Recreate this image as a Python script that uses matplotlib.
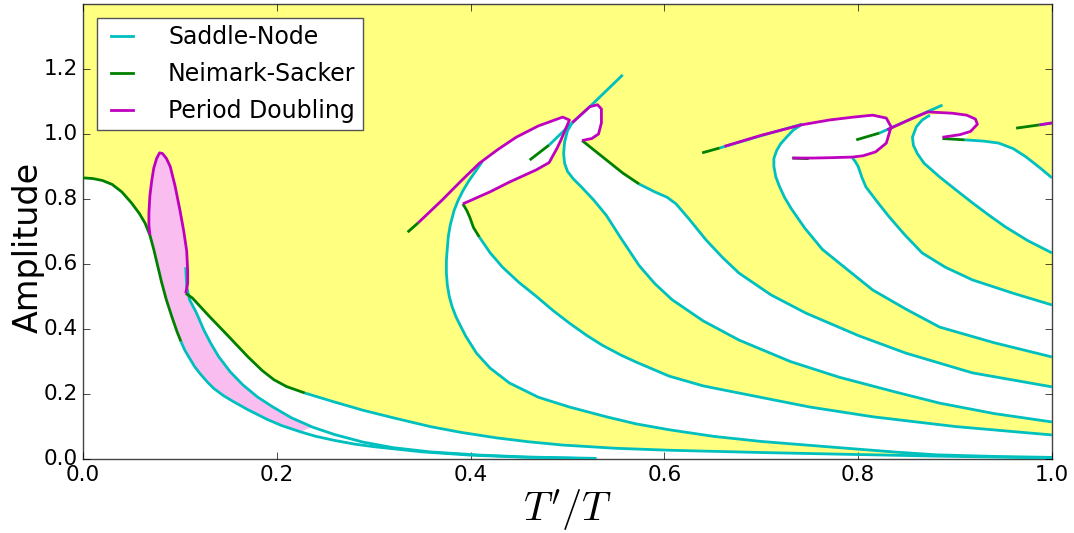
import matplotlib
matplotlib.use("Agg")
import matplotlib.pyplot as plt
from matplotlib.patches import Polygon

# ---- curve data (T'/T, amplitude) ----
# Neimark-Sacker pieces
ns1 = [(0.0, 0.865), (0.01, 0.863), (0.02, 0.857), (0.03, 0.845), (0.04, 0.822),
       (0.05, 0.788), (0.058, 0.756), (0.064, 0.726), (0.069, 0.689), (0.073, 0.645),
       (0.077, 0.595), (0.081, 0.545), (0.086, 0.49), (0.092, 0.435), (0.097, 0.392),
       (0.101, 0.362)]
ns2 = [(0.106, 0.51), (0.113, 0.495), (0.13, 0.44), (0.15, 0.378), (0.17, 0.315),
       (0.185, 0.272), (0.197, 0.244), (0.21, 0.223), (0.229, 0.203)]
ns_d2 = [(0.335, 0.698), (0.346, 0.727)]
ns_r2 = [(0.392, 0.785), (0.396, 0.765), (0.399, 0.745), (0.403, 0.712), (0.409, 0.683)]
ns_d3 = [(0.461, 0.92), (0.481, 0.966)]
ns_r3 = [(0.515, 0.98), (0.536, 0.93), (0.557, 0.88), (0.574, 0.846)]
ns_d4 = [(0.639, 0.942), (0.657, 0.957)]
ns_r4 = [(0.732, 0.926), (0.749, 0.924)]
ns_d5 = [(0.798, 0.982), (0.822, 1.003)]
ns_r5 = [(0.887, 0.986), (0.91, 0.982)]
ns_d6 = [(0.963, 1.018), (0.987, 1.028)]

# Saddle-node curves
sn_c1 = [(0.101, 0.362), (0.105, 0.335), (0.11, 0.31), (0.115, 0.285), (0.121, 0.262),
         (0.128, 0.238), (0.135, 0.217), (0.145, 0.195), (0.155, 0.177), (0.17, 0.152),
         (0.19, 0.122), (0.205, 0.103), (0.224, 0.084), (0.24, 0.07), (0.26, 0.057),
         (0.28, 0.046), (0.3, 0.038), (0.35, 0.022), (0.4, 0.012), (0.45, 0.006),
         (0.51, 0.002)]
sn_c2 = [(0.106, 0.59), (0.107, 0.53), (0.11, 0.49), (0.117, 0.45), (0.125, 0.395),
         (0.132, 0.355), (0.14, 0.315), (0.152, 0.268), (0.165, 0.228), (0.18, 0.191),
         (0.196, 0.16), (0.215, 0.127), (0.237, 0.098), (0.26, 0.075), (0.289, 0.052),
         (0.32, 0.035), (0.358, 0.022), (0.41, 0.012), (0.46, 0.006), (0.53, 0.002)]
sn_c3 = [(0.229, 0.203), (0.26, 0.175), (0.289, 0.15), (0.32, 0.127), (0.358, 0.1),
         (0.39, 0.082), (0.427, 0.065), (0.46, 0.053), (0.495, 0.043), (0.55, 0.033),
         (0.605, 0.027), (0.7, 0.02), (0.78, 0.015), (0.88, 0.009), (1.0, 0.003)]
sn_l2 = [(0.412, 0.915), (0.405, 0.885), (0.398, 0.855), (0.392, 0.825), (0.387, 0.795),
         (0.383, 0.765), (0.379, 0.72), (0.377, 0.685), (0.376, 0.65), (0.375, 0.61),
         (0.375, 0.572), (0.376, 0.535), (0.378, 0.5), (0.381, 0.468), (0.385, 0.437),
         (0.39, 0.407), (0.395, 0.378), (0.406, 0.326), (0.42, 0.28), (0.44, 0.234),
         (0.47, 0.19), (0.502, 0.16), (0.54, 0.13), (0.571, 0.108), (0.605, 0.09),
         (0.65, 0.07), (0.7, 0.054), (0.78, 0.035), (0.84, 0.021), (0.88, 0.013),
         (0.94, 0.008), (1.0, 0.005)]
sn_r2 = [(0.409, 0.683), (0.42, 0.635), (0.433, 0.59), (0.45, 0.543), (0.468, 0.5),
         (0.485, 0.457), (0.502, 0.418), (0.52, 0.38), (0.536, 0.35), (0.555, 0.32),
         (0.571, 0.298), (0.605, 0.255), (0.64, 0.225), (0.677, 0.203), (0.75, 0.16),
         (0.815, 0.13), (0.9, 0.1), (1.0, 0.074)]
sn_d3 = [(0.481, 0.966), (0.505, 1.035), (0.523, 1.084), (0.557, 1.182)]
sn_l3 = [(0.505, 1.035), (0.5, 1.01), (0.497, 0.975), (0.496, 0.94), (0.497, 0.91),
         (0.5, 0.885), (0.506, 0.862), (0.515, 0.835), (0.527, 0.797), (0.54, 0.75),
         (0.555, 0.68), (0.574, 0.595), (0.59, 0.54), (0.608, 0.49), (0.64, 0.425),
         (0.677, 0.366), (0.73, 0.3), (0.78, 0.252), (0.84, 0.205), (0.884, 0.172),
         (0.94, 0.14), (1.0, 0.114)]
sn_r3 = [(0.574, 0.846), (0.59, 0.822), (0.603, 0.805), (0.612, 0.785), (0.625, 0.74),
         (0.643, 0.674), (0.66, 0.62), (0.677, 0.572), (0.71, 0.505), (0.746, 0.449),
         (0.8, 0.38), (0.849, 0.326), (0.918, 0.265), (1.0, 0.222)]
sn_d4 = [(0.657, 0.957), (0.7, 0.995), (0.742, 1.03)]
sn_l4 = [(0.742, 1.03), (0.733, 1.012), (0.726, 0.99), (0.72, 0.97), (0.716, 0.95),
         (0.713, 0.925), (0.713, 0.9), (0.715, 0.868), (0.719, 0.837), (0.724, 0.805),
         (0.731, 0.77), (0.745, 0.71), (0.763, 0.645), (0.79, 0.58), (0.815, 0.52),
         (0.85, 0.46), (0.884, 0.406), (0.94, 0.358), (1.0, 0.314)]
sn_r4 = [(0.794, 0.927), (0.797, 0.915), (0.8, 0.9), (0.804, 0.865), (0.808, 0.837),
         (0.82, 0.79), (0.832, 0.745), (0.848, 0.69), (0.866, 0.634), (0.89, 0.59),
         (0.918, 0.551), (0.96, 0.51), (1.0, 0.474)]
sn_d5 = [(0.822, 1.003), (0.855, 1.047), (0.887, 1.089)]
sn_l5 = [(0.874, 1.058), (0.866, 1.043), (0.86, 1.022), (0.856, 0.99), (0.857, 0.965),
         (0.861, 0.94), (0.868, 0.91), (0.884, 0.868), (0.9, 0.83), (0.918, 0.788),
         (0.935, 0.75), (0.952, 0.714), (0.975, 0.672), (1.0, 0.634)]
sn_r5 = [(0.91, 0.982), (0.93, 0.978), (0.945, 0.972), (0.96, 0.955), (0.973, 0.93),
         (0.988, 0.895), (1.0, 0.865)]
sn_d6 = [(0.987, 1.028), (1.0, 1.034)]

# Period doubling curves
pd_lobe = [(0.069, 0.689), (0.068, 0.72), (0.068, 0.757), (0.069, 0.81), (0.071, 0.858),
           (0.073, 0.895), (0.076, 0.925), (0.079, 0.942), (0.082, 0.94), (0.086, 0.925),
           (0.09, 0.9), (0.095, 0.84), (0.1, 0.766), (0.104, 0.7), (0.107, 0.64),
           (0.108, 0.58), (0.108, 0.54), (0.106, 0.51)]
pd_loop2 = [(0.346, 0.727), (0.37, 0.795), (0.39, 0.855), (0.409, 0.91), (0.428, 0.952),
            (0.447, 0.99), (0.47, 1.025), (0.495, 1.052), (0.502, 1.043), (0.499, 1.022),
            (0.493, 0.98), (0.489, 0.955), (0.481, 0.912), (0.468, 0.89), (0.44, 0.852),
            (0.42, 0.822), (0.392, 0.785)]
pd_loop3 = [(0.505, 1.035), (0.523, 1.084), (0.531, 1.09), (0.535, 1.077), (0.535, 1.034),
            (0.532, 1.0), (0.525, 0.986), (0.515, 0.98)]
pd_loop4 = [(0.662, 0.962), (0.7, 0.996), (0.741, 1.028), (0.77, 1.043), (0.795, 1.052),
            (0.815, 1.058), (0.829, 1.049), (0.834, 1.022), (0.829, 0.972), (0.818, 0.945),
            (0.805, 0.933), (0.794, 0.929), (0.77, 0.927), (0.753, 0.926), (0.732, 0.926)]
pd_loop5 = [(0.83, 1.013), (0.855, 1.047), (0.872, 1.068), (0.897, 1.064), (0.912, 1.058),
            (0.921, 1.046), (0.923, 1.03), (0.916, 1.008), (0.905, 0.998), (0.887, 0.99)]
pd_d6 = [(0.987, 1.028), (1.0, 1.034)]

YELLOW = "#ffff80"
PINK = "#f9bdf0"
CYAN = "#00bfbf"
GREEN = "#008000"
MAGENTA = "#bf00bf"

plt.style.use("classic")
fig = plt.figure(figsize=(10.74, 5.33), dpi=100, facecolor="white")
ax = fig.add_axes([0.0773, 0.1388, 0.9022, 0.8537])
ax.set_facecolor(YELLOW)

# white (stable) regions and pink period-doubled region
t1 = [(0.0, 0.0)] + ns1[:9] + pd_lobe[1:] + ns2[1:] + sn_c3[1:] + [(1.0, 0.0)]
t2 = sn_l2[::-1] + pd_loop2[4:] + ns_r2[1:] + sn_r2[1:]
t3 = sn_l3[::-1] + pd_loop3[1:] + ns_r3[1:] + sn_r3[1:]
t4 = sn_l4[::-1] + pd_loop4[3:12] + sn_r4[1:]
t5 = sn_l5[::-1] + pd_loop5[3:8] + sn_r5
for poly in (t1, t2, t3, t4, t5):
    ax.add_patch(Polygon(poly, closed=True, facecolor="white", edgecolor="none", zorder=1))

pink = (pd_lobe
        + [p for p in sn_c2 if p[1] < 0.5 and p[0] <= 0.237]
        + [p for p in sn_c1[::-1] if p[0] <= 0.226]
        + [p for p in ns1[::-1] if p[0] > 0.069])
ax.add_patch(Polygon(pink, closed=True, facecolor=PINK, edgecolor="none", zorder=1.5))


def draw(curves, color, z):
    for c in curves:
        xs, ys = zip(*c)
        ax.plot(xs, ys, color=color, lw=2, zorder=z,
                solid_capstyle="butt", solid_joinstyle="round")


draw([sn_c1, sn_c2, sn_c3, sn_l2, sn_r2, sn_d3, sn_l3, sn_r3, sn_d4, sn_l4, sn_r4,
      sn_d5, sn_l5, sn_r5, sn_d6], CYAN, 3)
draw([ns1, ns2, ns_d2, ns_r2, ns_d3, ns_r3, ns_d4, ns_r4, ns_d5, ns_r5, ns_d6], GREEN, 4)
draw([pd_lobe, pd_loop2, pd_loop3, pd_loop4, pd_loop5, pd_d6], MAGENTA, 5)

# legend proxies
ax.plot([], [], color=CYAN, lw=2, label="Saddle-Node")
ax.plot([], [], color=GREEN, lw=2, label="Neimark-Sacker")
ax.plot([], [], color=MAGENTA, lw=2, label="Period Doubling")
leg = ax.legend(loc="upper left", fontsize=17, handlelength=1.5, borderaxespad=0.6,
                borderpad=0.3, labelspacing=0.55, handletextpad=1.2)
leg.get_frame().set_edgecolor("#555555")

ax.set_xlim(0, 1)
ax.set_ylim(0, 1.4)
ax.set_xticks([0.0, 0.2, 0.4, 0.6, 0.8, 1.0])
ax.set_yticks([0.0, 0.2, 0.4, 0.6, 0.8, 1.0, 1.2])
ax.tick_params(labelsize=15.5, direction="in", length=5)
for s in ax.spines.values():
    s.set_color("#444444")
ax.set_xlabel(r"$T'/T$", fontsize=29, labelpad=2)
ax.set_ylabel("Amplitude", fontsize=24)
ax.yaxis.set_label_coords(-0.04, 0.466)

fig.savefig("out.png", dpi=100, facecolor="white")
